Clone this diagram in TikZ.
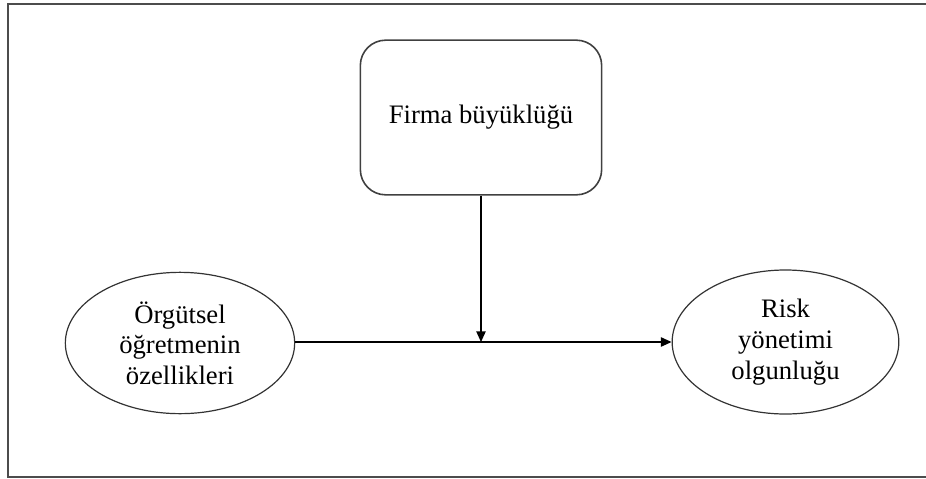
\documentclass[tikz,border=0pt]{standalone}
\usepackage{fontspec}
\setmainfont{Liberation Serif}
\usetikzlibrary{shapes.geometric,arrows.meta}

\begin{document}
\begin{tikzpicture}[x=0.75pt,y=-0.75pt,
  font=\fontsize{20}{23}\selectfont,
  box/.style={draw=black!75,line width=1.2pt,rounded corners=19pt,minimum width=181pt,minimum height=116pt,inner sep=0pt},
  oval/.style={ellipse,draw=black!80,line width=0.9pt,align=center,inner sep=0pt},
  conn/.style={-{Triangle[length=8pt,width=7pt]},line width=1pt}]
\useasboundingbox (0,0) rectangle (926,479);
\draw[black!70,line width=1.3pt] (926,4) -- (8,4) -- (8,477) -- (926,477);
\node[box] (size) at (481,117.5) {Firma büyüklüğü};
\node[oval,minimum width=172pt,minimum height=106pt] (learn) at (180,343) {Örgütsel\\öğretmenin\\özellikleri};
\node[oval,minimum width=170pt,minimum height=108pt] (risk) at (785.5,342) {Risk\\yönetimi\\olgunluğu};
\coordinate (mid) at (481,342);
\draw[conn] (learn.east |- mid) -- (risk.west |- mid);
\draw[conn] (size.south) -- (mid);
\end{tikzpicture}
\end{document}
